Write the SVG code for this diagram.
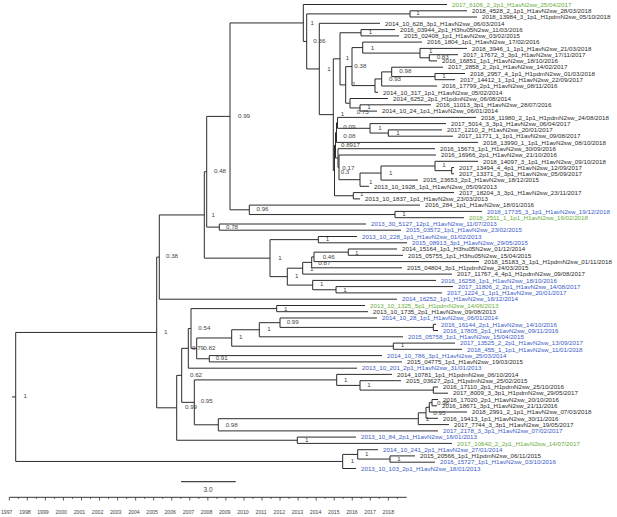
<svg xmlns="http://www.w3.org/2000/svg" width="617" height="517" viewBox="0 0 617 517">
<style>
.br{fill:none;stroke:#2b2b2b;stroke-width:1}
text{font-family:"Liberation Sans",Arial,sans-serif}
.lf{font-size:6.2px;fill:#2b2b2b}
.b{fill:#3b5cc6}
.g{fill:#6aae3b}
.nl{font-size:6.2px;fill:#444}
.ax{font-size:5.2px;fill:#444;text-anchor:middle}
</style>
<rect width="617" height="517" fill="#fff"/>
<g id="connectors" class="br">
<path d="M12,396.95H15.7M15.7,332.45V461.45M15.7,332.45H156.7M15.7,461.45H342.7"/>
<path d="M156.7,257.1V407.8M156.7,257.1H159.3M156.7,407.8H176.7"/>
<path d="M159.3,214.95V299.2M159.3,214.95H204.3M159.3,299.2H397"/>
<path d="M204.3,171.75V258.15M204.3,171.75H206.7M204.3,258.15H270"/>
<path d="M206.7,116.4V227.1M206.7,116.4H230M206.7,227.1H219.3"/>
<path d="M219.3,224V230.2M219.3,224H366M219.3,230.2H401"/>
<path d="M230,22.95V209.8M230,22.95H303.3M230,209.8H249.3"/>
<path d="M249.3,205.1V214.55M249.3,205.1H420M249.3,214.55H395"/>
<path d="M395,211.4V217.7M395,211.4H482M395,217.7H464"/>
<path d="M303.3,4.5V41.4M303.3,4.5H447M303.3,41.4H306.7"/>
<path d="M306.7,13.9V68.95M306.7,13.9H410M306.7,68.95H319.3"/>
<path d="M410,10.8V17M410,10.8H467M410,17H477"/>
<path d="M319.3,23.3V114.65M319.3,23.3H380M319.3,114.65H333.3"/>
<path d="M333.3,58.8V170.5M333.3,58.8H340M333.3,170.5H334.5"/>
<path d="M340,32.75V84.9M340,32.75H361M340,84.9H345.7"/>
<path d="M361,29.6V35.9M361,29.6H395M361,35.9H399"/>
<path d="M345.7,66.6V103.2M345.7,66.6H352M345.7,103.2H350"/>
<path d="M352,47.6V85.6M352,47.6H362.7M352,85.6H375"/>
<path d="M362.7,42.1V53.1M362.7,42.1H422M362.7,53.1H420"/>
<path d="M420,48.4V57.8M420,48.4H467M420,57.8H429.3"/>
<path d="M429.3,54.7V60.9M429.3,54.7H458M429.3,60.9H437"/>
<path d="M375,78.95V92.3M375,78.95H381.7M375,92.3H378"/>
<path d="M381.7,71.9V86M381.7,71.9H391.7M381.7,86H437"/>
<path d="M391.7,67.2V76.6M391.7,67.2H443M391.7,76.6H435"/>
<path d="M435,73.5V79.7M435,73.5H465M435,79.7H455"/>
<path d="M350,98.5V107.95M350,98.5H388M350,107.95H360"/>
<path d="M360,104.8V111.1M360,104.8H431M360,111.1H377"/>
<path d="M334.5,145.3V195.75M334.5,145.3H335.5M334.5,195.75H353.3"/>
<path d="M335.5,132.6V158M335.5,132.6H336.5M335.5,158H338"/>
<path d="M336.5,122.85V142.4M336.5,122.85H337.5M336.5,142.4H478"/>
<path d="M337.5,117.4V128.3M337.5,117.4H476M337.5,128.3H370"/>
<path d="M370,123.6V133.05M370,123.6H446M370,133.05H388.3"/>
<path d="M388.3,129.9V136.2M388.3,129.9H442M388.3,136.2H453"/>
<path d="M338,148.7V167.35M338,148.7H435M338,167.35H339"/>
<path d="M339,155V179.7M339,155H436M339,179.7H360"/>
<path d="M360,173.05V186.3M360,173.05H381M360,186.3H369"/>
<path d="M381,166V180.1M381,166H435M381,180.1H418"/>
<path d="M435,161.3V170.65M435,161.3H478M435,170.65H451.7"/>
<path d="M451.7,167.5V173.8M451.7,167.5H454M451.7,173.8H454"/>
<path d="M353.3,192.6V198.9M353.3,192.6H454M353.3,198.9H360"/>
<path d="M270,239.65V276.65M270,239.65H318.3M270,276.65H287.3"/>
<path d="M318.3,236.5V242.8M318.3,236.5H357M318.3,242.8H407"/>
<path d="M287.3,268.2V285.1M287.3,268.2H302.7M287.3,285.1H312.7"/>
<path d="M302.7,262.35V274.1M302.7,262.35H311.7M302.7,274.1H452"/>
<path d="M311.7,256.9V267.8M311.7,256.9H314M311.7,267.8H402"/>
<path d="M314,252.15V261.6M314,252.15H348.3M314,261.6H479"/>
<path d="M348.3,249V255.3M348.3,249H397M348.3,255.3H403"/>
<path d="M312.7,280.4V289.75M312.7,280.4H436M312.7,289.75H336"/>
<path d="M336,286.6V292.9M336,286.6H453M336,292.9H442"/>
<path d="M176.7,375.35V440.25M176.7,375.35H181.7M176.7,440.25H297.3"/>
<path d="M297.3,437.1V443.4M297.3,437.1H356M297.3,443.4H452"/>
<path d="M181.7,348.34V402.35M181.7,348.34H188.3M181.7,402.35H194.3"/>
<path d="M188.3,328.48V368.2M188.3,328.48H191M188.3,368.2H357"/>
<path d="M191,308.6V348.36M191,308.6H276.7M191,348.36H196.7"/>
<path d="M276.7,305.5V311.7M276.7,305.5H365M276.7,311.7H368"/>
<path d="M196.7,337.97V358.75M196.7,337.97H231.7M196.7,358.75H209.3"/>
<path d="M231.7,329.75V346.2M231.7,329.75H259.3M231.7,346.2H393.3"/>
<path d="M259.3,322.7V336.8M259.3,322.7H280M259.3,336.8H403"/>
<path d="M280,318V327.4M280,318H377M280,327.4H433.3"/>
<path d="M433.3,324.3V330.5M433.3,324.3H436M433.3,330.5H438"/>
<path d="M393.3,343.1V349.3M393.3,343.1H455M393.3,349.3H462"/>
<path d="M209.3,355.6V361.9M209.3,355.6H382M209.3,361.9H402"/>
<path d="M194.3,379.9V424.8M194.3,379.9H336.7M194.3,424.8H218.3"/>
<path d="M336.7,374.4V385.4M336.7,374.4H392M336.7,385.4H360"/>
<path d="M360,380.7V390.1M360,380.7H401M360,390.1H433.3"/>
<path d="M433.3,387V393.2M433.3,387H438M433.3,393.2H448"/>
<path d="M218.3,418.7V430.9M218.3,418.7H418.3M218.3,430.9H438"/>
<path d="M418.3,412.8V424.6M418.3,412.8H426M418.3,424.6H449"/>
<path d="M426,407.3V418.3M426,407.3H429.3M426,418.3H438"/>
<path d="M429.3,402.65V412M429.3,402.65H432M429.3,412H467"/>
<path d="M432,399.5V405.8M432,399.5H438M432,405.8H437"/>
<path d="M342.7,454.4V468.5M342.7,454.4H357.7M342.7,468.5H356"/>
<path d="M357.7,449.7V459.05M357.7,449.7H378M357.7,459.05H390"/>
<path d="M390,455.9V462.2M390,455.9H415M390,462.2H435"/>
</g>
<g id="leaves" class="lf">
<g id="leaf01"><text class="lf g" x="452" y="6.7">2017_6106_2_2p1_H1avN2sw_25/04/2017</text></g>
<g id="leaf02"><text class="lf" x="472" y="13">2018_4528_2_1p1_H1avN2sw_28/03/2018</text></g>
<g id="leaf03"><text class="lf" x="482" y="19.2">2018_13984_3_1p1_H1pdmN2sw_05/10/2018</text></g>
<g id="leaf04"><text class="lf" x="385" y="25.5">2014_10_628_3p1_H1avN2sw_06/03/2014</text></g>
<g id="leaf05"><text class="lf" x="400" y="31.8">2016_03944_2p1_H3hu05N2sw_11/03/2016</text></g>
<g id="leaf06"><text class="lf" x="404" y="38.1">2015_02408_1p1_H1avN2sw_03/02/2015</text></g>
<g id="leaf07"><text class="lf" x="427" y="44.3">2016_1804_1p1_H1avN2sw_17/02/2016</text></g>
<g id="leaf08"><text class="lf" x="472" y="50.6">2018_3946_1_1p1_H1avN2sw_21/03/2018</text></g>
<g id="leaf09"><text class="lf" x="463" y="56.9">2017_17672_3_3p1_H1avN2sw_17/11/2017</text></g>
<g id="leaf10"><text class="lf" x="442" y="63.1">2016_16851_1p1_H1avN2sw_18/10/2016</text></g>
<g id="leaf11"><text class="lf" x="448" y="69.4">2017_2858_2_2p1_H1avN2sw_14/02/2017</text></g>
<g id="leaf12"><text class="lf" x="470" y="75.7">2018_2957_4_1p1_H1pdmN2sw_01/03/2018</text></g>
<g id="leaf13"><text class="lf" x="460" y="81.9">2017_14412_1_1p1_H1avN2sw_22/09/2017</text></g>
<g id="leaf14"><text class="lf" x="442" y="88.2">2016_17799_2p1_H1avN2sw_08/11/2016</text></g>
<g id="leaf15"><text class="lf" x="383" y="94.5">2014_10_317_1p1_H1avN2sw_05/02/2014</text></g>
<g id="leaf16"><text class="lf" x="393" y="100.7">2014_6252_2p1_H1pdmN2sw_06/08/2014</text></g>
<g id="leaf17"><text class="lf" x="436" y="107">2016_11013_3p1_H1avN2sw_28/07/2016</text></g>
<g id="leaf18"><text class="lf" x="382" y="113.3">2014_10_24_1p1_H1avN2sw_06/01/2014</text></g>
<g id="leaf19"><text class="lf" x="481" y="119.6">2018_11980_2_1p1_H1pdmN2sw_24/08/2018</text></g>
<g id="leaf20"><text class="lf" x="451" y="125.8">2017_5014_3_3p1_H1avN2sw_06/04/2017</text></g>
<g id="leaf21"><text class="lf" x="447" y="132.1">2017_1210_2_H1avN2sw_20/01/2017</text></g>
<g id="leaf22"><text class="lf" x="458" y="138.4">2017_11771_1_1p1_H1avN2sw_09/08/2017</text></g>
<g id="leaf23"><text class="lf" x="483" y="144.6">2018_13990_1_1p1_H1avN2sw_08/10/2018</text></g>
<g id="leaf24"><text class="lf" x="440" y="150.9">2016_15673_1p1_H1avN2sw_30/09/2016</text></g>
<g id="leaf25"><text class="lf" x="441" y="157.2">2016_16966_2p1_H1avN2sw_21/10/2016</text></g>
<g id="leaf26"><text class="lf" x="483" y="163.5">2018_14097_3_1p1_H1avN2sw_09/10/2018</text></g>
<g id="leaf27"><text class="lf" x="459" y="169.7">2017_13494_4_4p1_H1avN2sw_12/09/2017</text></g>
<g id="leaf28"><text class="lf" x="459" y="176">2017_13371_3_3p1_H1avN2sw_05/09/2017</text></g>
<g id="leaf29"><text class="lf" x="423" y="182.3">2015_23653_2p1_H1avN2sw_18/12/2015</text></g>
<g id="leaf30"><text class="lf" x="374" y="188.5">2013_10_1928_1p1_H1avN2sw_05/09/2013</text></g>
<g id="leaf31"><text class="lf" x="459" y="194.8">2017_18204_3_3p1_H1avN2sw_23/11/2017</text></g>
<g id="leaf32"><text class="lf" x="365" y="201.1">2013_10_1837_1p1_H1avN2sw_23/03/2013</text></g>
<g id="leaf33"><text class="lf" x="425" y="207.3">2016_284_1p1_H1avN2sw_18/01/2016</text></g>
<g id="leaf34"><text class="lf b" x="487" y="213.6">2018_17735_3_1p1_H1avN2sw_19/12/2018</text></g>
<g id="leaf35"><text class="lf g" x="469" y="219.9">2018_2511_1_1p1_H1avN2sw_16/02/2018</text></g>
<g id="leaf36"><text class="lf b" x="371" y="226.2">2013_30_5127_12p1_H1avN2sw_11/07/2013</text></g>
<g id="leaf37"><text class="lf b" x="406" y="232.4">2015_03572_1p1_H1avN2sw_23/02/2015</text></g>
<g id="leaf38"><text class="lf b" x="362" y="238.7">2013_10_228_1p1_H1avN2sw_01/02/2013</text></g>
<g id="leaf39"><text class="lf b" x="412" y="245">2015_08913_3p1_H1avN2sw_29/05/2015</text></g>
<g id="leaf40"><text class="lf" x="402" y="251.2">2014_15164_1p1_H3hu05N2sw_01/12/2014</text></g>
<g id="leaf41"><text class="lf" x="408" y="257.5">2015_05755_1p1_H3hu05N2sw_15/04/2015</text></g>
<g id="leaf42"><text class="lf" x="484" y="263.8">2018_15183_3_1p1_H1pdmN2sw_01/11/2018</text></g>
<g id="leaf43"><text class="lf" x="407" y="270">2015_04804_3p1_H1pdmN2sw_24/03/2015</text></g>
<g id="leaf44"><text class="lf" x="457" y="276.3">2017_11767_4_4p1_H1pdmN2sw_09/08/2017</text></g>
<g id="leaf45"><text class="lf b" x="441" y="282.6">2016_16258_1p1_H1avN2sw_18/10/2016</text></g>
<g id="leaf46"><text class="lf b" x="458" y="288.8">2017_11806_2_2p1_H1avN2sw_14/08/2017</text></g>
<g id="leaf47"><text class="lf b" x="447" y="295.1">2017_1224_1_1p1_H1avN2sw_20/01/2017</text></g>
<g id="leaf48"><text class="lf b" x="402" y="301.4">2014_16252_1p1_H1avN2sw_16/12/2014</text></g>
<g id="leaf49"><text class="lf g" x="370" y="307.7">2013_10_1325_5p1_H1pdmN2sw_14/06/2013</text></g>
<g id="leaf50"><text class="lf" x="373" y="313.9">2013_10_1735_2p1_H1avN2sw_09/08/2013</text></g>
<g id="leaf51"><text class="lf b" x="382" y="320.2">2014_10_28_1p1_H1avN2sw_06/01/2014</text></g>
<g id="leaf52"><text class="lf b" x="441" y="326.5">2016_16144_2p1_H1avN2sw_14/10/2016</text></g>
<g id="leaf53"><text class="lf b" x="443" y="332.7">2016_17805_2p1_H1avN2sw_09/11/2016</text></g>
<g id="leaf54"><text class="lf b" x="408" y="339">2015_05758_1p1_H1avN2sw_15/04/2015</text></g>
<g id="leaf55"><text class="lf b" x="460" y="345.3">2017_13525_2_2p1_H1avN2sw_13/09/2017</text></g>
<g id="leaf56"><text class="lf b" x="467" y="351.5">2018_455_1_1p1_H1avN2sw_11/01/2018</text></g>
<g id="leaf57"><text class="lf b" x="387" y="357.8">2014_10_786_3p1_H1avN2sw_25/03/2014</text></g>
<g id="leaf58"><text class="lf" x="407" y="364.1">2015_04775_1p1_H1avN2sw_19/03/2015</text></g>
<g id="leaf59"><text class="lf b" x="362" y="370.4">2013_10_201_2p1_H1avN2sw_31/01/2013</text></g>
<g id="leaf60"><text class="lf" x="397" y="376.6">2014_10781_1p1_H1pdmN2sw_06/10/2014</text></g>
<g id="leaf61"><text class="lf" x="406" y="382.9">2015_03627_2p1_H1pdmN2sw_25/02/2015</text></g>
<g id="leaf62"><text class="lf" x="443" y="389.2">2016_17110_2p1_H1pdmN2sw_25/10/2016</text></g>
<g id="leaf63"><text class="lf" x="453" y="395.4">2017_8009_3_3p1_H1pdmN2sw_29/05/2017</text></g>
<g id="leaf64"><text class="lf" x="443" y="401.7">2016_17020_2p1_H1avN2sw_20/10/2016</text></g>
<g id="leaf65"><text class="lf" x="442" y="408">2016_18671_3p1_H1avN2sw_21/11/2016</text></g>
<g id="leaf66"><text class="lf" x="472" y="414.2">2018_2991_2_1p1_H1avN2sw_07/03/2018</text></g>
<g id="leaf67"><text class="lf" x="443" y="420.5">2016_19413_1p1_H1avN2sw_30/11/2016</text></g>
<g id="leaf68"><text class="lf" x="454" y="426.8">2017_7744_3_3p1_H1avN2sw_19/05/2017</text></g>
<g id="leaf69"><text class="lf b" x="443" y="433.1">2017_2178_3_3p1_H1avN2sw_07/02/2017</text></g>
<g id="leaf70"><text class="lf b" x="361" y="439.3">2013_10_84_2p1_H1avN2sw_16/01/2013</text></g>
<g id="leaf71"><text class="lf g" x="457" y="445.6">2017_10640_2_2p1_H1avN2sw_14/07/2017</text></g>
<g id="leaf72"><text class="lf b" x="383" y="451.9">2014_10_241_2p1_H1avN2sw_27/01/2014</text></g>
<g id="leaf73"><text class="lf" x="420" y="458.1">2015_20566_1p1_H1pdmN2sw_06/11/2015</text></g>
<g id="leaf74"><text class="lf b" x="440" y="464.4">2016_15727_1p1_H1avN2sw_03/10/2016</text></g>
<g id="leaf75"><text class="lf b" x="361" y="470.7">2013_10_103_2p1_H1avN2sw_18/01/2013</text></g>
</g>
<g id="node-labels" class="nl">
<g id="nl-root"><text class="nl" x="23.5" y="398.2">1</text></g>
<g id="nl-A"><text class="nl" x="164" y="333.9">1</text></g>
<g id="nl-P1"><text class="nl" x="166" y="258.2">0.38</text></g>
<g id="nl-N1"><text class="nl" x="211.5" y="216.5">1</text></g>
<g id="nl-N2"><text class="nl" x="214" y="173.2">0.48</text></g>
<g id="nl-N4"><text class="nl" x="238" y="117.9">0.99</text></g>
<g id="nl-N6"><text class="nl" x="256.5" y="211.2">0.96</text></g>
<g id="nl-N5"><text class="nl" x="226" y="228.9">0.78</text></g>
<g id="nl-N7"><text class="nl" x="402.3" y="215.5">1</text></g>
<g id="nl-n303"><text class="nl" x="310.5" y="24.9">1</text></g>
<g id="nl-X"><text class="nl" x="313.3" y="42.9">0.36</text></g>
<g id="nl-n23"><text class="nl" x="416.3" y="15.2">1</text></g>
<g id="nl-Y"><text class="nl" x="327.3" y="71.2">1</text></g>
<g id="nl-W"><text class="nl" x="345.7" y="59.5">1</text></g>
<g id="nl-T"><text class="nl" x="354.3" y="68.2">0.38</text></g>
<g id="nl-n56"><text class="nl" x="368.7" y="33.9">1</text></g>
<g id="nl-n7"><text class="nl" x="370.7" y="49.5">1</text></g>
<g id="nl-n8"><text class="nl" x="429" y="52.9">1</text></g>
<g id="nl-n910"><text class="nl" x="436.7" y="58.9">0.83</text></g>
<g id="nl-n391"><text class="nl" x="399.3" y="72.9">0.98</text></g>
<g id="nl-n381"><text class="nl" x="389" y="80.5">0.93</text></g>
<g id="nl-n435"><text class="nl" x="442.3" y="78.2">1</text></g>
<g id="nl-V"><text class="nl" x="352.3" y="86.2">1</text></g>
<g id="nl-Q"><text class="nl" x="356.7" y="113.9">0.75</text></g>
<g id="nl-n360q"><text class="nl" x="367.3" y="108.9">1</text></g>
<g id="nl-Z"><text class="nl" x="340.7" y="115.5">1</text></g>
<g id="nl-G"><text class="nl" x="343.3" y="128.9">0.09</text></g>
<g id="nl-n370"><text class="nl" x="378.3" y="129.9">1</text></g>
<g id="nl-n388"><text class="nl" x="396.3" y="134.5">1</text></g>
<g id="nl-E"><text class="nl" x="343.3" y="137.9">0.08</text></g>
<g id="nl-D"><text class="nl" x="341" y="147.2">0.8917</text></g>
<g id="nl-D1"><text class="nl" x="342.3" y="169.5">0.17</text></g>
<g id="nl-U"><text class="nl" x="340.7" y="173.9">0.3</text></g>
<g id="nl-n435b"><text class="nl" x="442.3" y="167.2">1</text></g>
<g id="nl-n381b"><text class="nl" x="389" y="174.9">1</text></g>
<g id="nl-n360b"><text class="nl" x="369" y="183.9">1</text></g>
<g id="nl-K"><text class="nl" x="360" y="195.5">1</text></g>
<g id="nl-n318"><text class="nl" x="325.7" y="241.2">1</text></g>
<g id="nl-N3"><text class="nl" x="278.3" y="259.5">1</text></g>
<g id="nl-R3"><text class="nl" x="322.7" y="258.9">0.46</text></g>
<g id="nl-R2"><text class="nl" x="318.3" y="264.5">0.87</text></g>
<g id="nl-R1"><text class="nl" x="310" y="270.5">1</text></g>
<g id="nl-n348"><text class="nl" x="355" y="254.5">1</text></g>
<g id="nl-n287"><text class="nl" x="295" y="278.2">1</text></g>
<g id="nl-n312"><text class="nl" x="320" y="285.5">1</text></g>
<g id="nl-n336"><text class="nl" x="343.3" y="291.5">1</text></g>
<g id="nl-n49"><text class="nl" x="284" y="310.5">1</text></g>
<g id="nl-n280"><text class="nl" x="286.7" y="323.9">0.99</text></g>
<g id="nl-n259"><text class="nl" x="267.3" y="331.2">1</text></g>
<g id="nl-M3"><text class="nl" x="198.3" y="329.5">0.54</text></g>
<g id="nl-n231"><text class="nl" x="239" y="338.9">1</text></g>
<g id="nl-n393"><text class="nl" x="400.7" y="347.2">1</text></g>
<g id="nl-M2"><text class="nl" x="192" y="349.9">0.79</text></g>
<g id="nl-M4"><text class="nl" x="203.3" y="349.9">0.82</text></g>
<g id="nl-n209"><text class="nl" x="215.7" y="359.9">0.91</text></g>
<g id="nl-M1"><text class="nl" x="190" y="376.5">0.62</text></g>
<g id="nl-n336c"><text class="nl" x="344" y="381.5">1</text></g>
<g id="nl-n360c"><text class="nl" x="367.3" y="386.5">1</text></g>
<g id="nl-n194"><text class="nl" x="200.7" y="403.2">0.95</text></g>
<g id="nl-BA"><text class="nl" x="185" y="408.9">0.99</text></g>
<g id="nl-P4"><text class="nl" x="437" y="404.5">0.98</text></g>
<g id="nl-P2"><text class="nl" x="433.3" y="414.5">0.95</text></g>
<g id="nl-Pp1"><text class="nl" x="425.7" y="420.5">1</text></g>
<g id="nl-n218"><text class="nl" x="225.7" y="426.5">0.98</text></g>
<g id="nl-n297"><text class="nl" x="305" y="441.5">1</text></g>
<g id="nl-n357"><text class="nl" x="365" y="455.5">1</text></g>
<g id="nl-n390"><text class="nl" x="397.3" y="460.5">1</text></g>
<g id="nl-B"><text class="nl" x="350.7" y="463.2">1</text></g>
</g>
<g id="scale-bar">
<path d="M181,481.7H235.7" fill="none" stroke="#444" stroke-width="1.3"/>
<text x="208" y="492.3" font-size="6.5" fill="#444" text-anchor="middle">3.0</text>
</g>
<g id="time-axis">
<path d="M9.3,497.3H406.7" fill="none" stroke="#333" stroke-width="1"/>
<path fill="none" stroke="#333" stroke-width="0.8" d="M9.3,497.3v3.2M27.35,497.3v3.2M45.4,497.3v3.2M63.45,497.3v3.2M81.5,497.3v3.2M99.55,497.3v3.2M117.6,497.3v3.2M135.65,497.3v3.2M153.7,497.3v3.2M171.75,497.3v3.2M189.8,497.3v3.2M207.85,497.3v3.2M225.9,497.3v3.2M243.95,497.3v3.2M262,497.3v3.2M280.05,497.3v3.2M298.1,497.3v3.2M316.15,497.3v3.2M334.2,497.3v3.2M352.25,497.3v3.2M370.3,497.3v3.2M388.35,497.3v3.2M18.33,497.3v1.6M36.38,497.3v1.6M54.43,497.3v1.6M72.48,497.3v1.6M90.53,497.3v1.6M108.58,497.3v1.6M126.63,497.3v1.6M144.68,497.3v1.6M162.73,497.3v1.6M180.78,497.3v1.6M198.83,497.3v1.6M216.88,497.3v1.6M234.93,497.3v1.6M252.98,497.3v1.6M271.03,497.3v1.6M289.08,497.3v1.6M307.13,497.3v1.6M325.18,497.3v1.6M343.23,497.3v1.6M361.28,497.3v1.6M379.33,497.3v1.6M397.4,497.3v1.6"/>
<text class="ax" x="6.7" y="513.6">1997</text>
<text class="ax" x="24.9" y="513.6">1998</text>
<text class="ax" x="43" y="513.6">1999</text>
<text class="ax" x="61.2" y="513.6">2000</text>
<text class="ax" x="79.4" y="513.6">2001</text>
<text class="ax" x="97.6" y="513.6">2002</text>
<text class="ax" x="115.7" y="513.6">2003</text>
<text class="ax" x="133.9" y="513.6">2004</text>
<text class="ax" x="152.1" y="513.6">2005</text>
<text class="ax" x="170.2" y="513.6">2006</text>
<text class="ax" x="188.4" y="513.6">2007</text>
<text class="ax" x="206.6" y="513.6">2008</text>
<text class="ax" x="224.7" y="513.6">2009</text>
<text class="ax" x="242.9" y="513.6">2010</text>
<text class="ax" x="261.1" y="513.6">2011</text>
<text class="ax" x="279.3" y="513.6">2012</text>
<text class="ax" x="297.4" y="513.6">2013</text>
<text class="ax" x="315.6" y="513.6">2014</text>
<text class="ax" x="333.8" y="513.6">2015</text>
<text class="ax" x="351.9" y="513.6">2016</text>
<text class="ax" x="370.1" y="513.6">2017</text>
<text class="ax" x="388.3" y="513.6">2018</text>
</g>
</svg>
